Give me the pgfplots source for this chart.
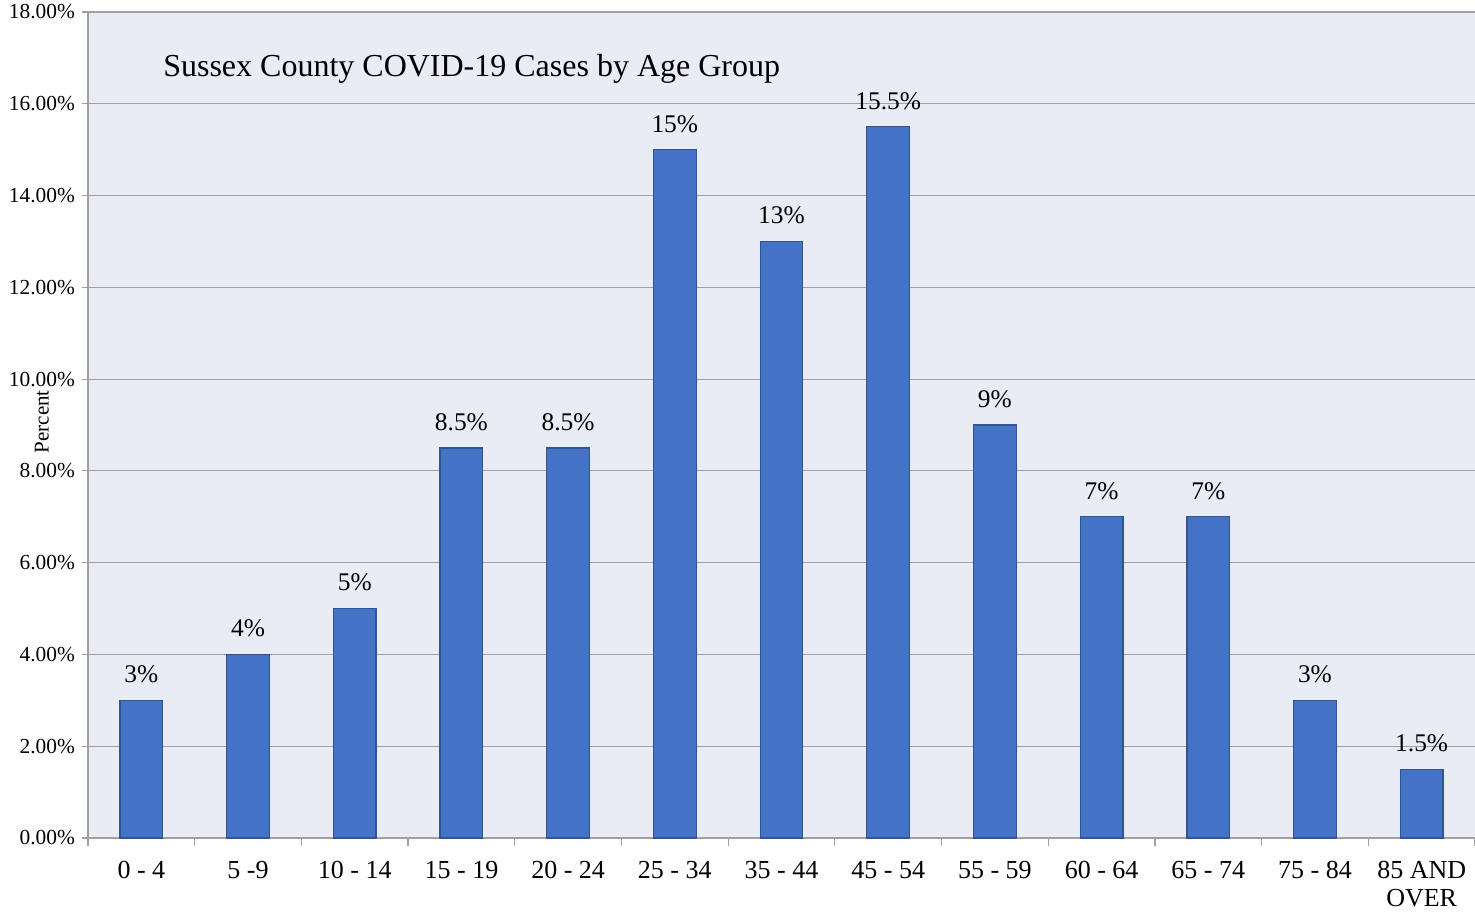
\documentclass[border=0pt]{standalone}
\usepackage{fontspec}
\setmainfont{Liberation Serif}
\usepackage{pgfplots}
\pgfplotsset{compat=1.18}
\definecolor{barblue}{HTML}{4472C4}
\definecolor{baredge}{HTML}{2F5597}
\definecolor{plotbg}{HTML}{E9EBF5}
\definecolor{gridgray}{HTML}{A0A0A0}
\begin{document}
\begin{tikzpicture}
\begin{axis}[
  scale only axis,
  width=693.5bp, height=413bp,
  xmin=-0.5, xmax=12.5, ymin=0, ymax=18,
  axis lines*=left,
  axis line style={-, draw=gridgray, line width=0.6bp},
  axis background/.style={fill=plotbg},
  ybar, bar width=0.4, bar shift=0pt,
  xtick=data,
  xticklabels={0 - 4, 5 -9, 10 - 14, 15 - 19, 20 - 24, 25 - 34, 35 - 44, 45 - 54, 55 - 59, 60 - 64, 65 - 74, 75 - 84, {85 AND\\OVER}},
  major x tick style={draw=none},
  minor xtick={-0.5,0.5,...,12.5},
  minor tick length=4bp,
  minor x tick style={draw=gridgray, line width=0.6bp},
  ytick={0,2,...,18},
  ymajorgrids,
  major grid style={draw=gridgray, line width=0.6bp},
  tick align=outside,
  major tick length=3bp,
  major y tick style={draw=gridgray, line width=0.6bp},
  /pgf/number format/assume math mode=true,
  yticklabel={\pgfmathprintnumber[fixed,fixed zerofill,precision=2]{\tick}\%},
  yticklabel style={font=\fontsize{10.7bp}{12bp}\selectfont},
  xticklabel style={font=\fontsize{13bp}{14bp}\selectfont, align=center, yshift=-5bp},
  ylabel={Percent},
  ylabel style={font=\fontsize{10.5bp}{12bp}\selectfont, at={(axis description cs:-0.0332,0.504)}, anchor=center},
  title={Sussex County COVID-19 Cases by Age Group},
  title style={font=\fontsize{16bp}{18bp}\selectfont, at={(axis description cs:0.054,0.908)}, anchor=base west, inner sep=0pt},
  nodes near coords={\pgfmathprintnumber{\pgfplotspointmeta}\%},
  nodes near coords style={font=\fontsize{12.7bp}{14bp}\selectfont, yshift=5bp},
  clip=false,
]
\addplot[fill=barblue, draw=baredge, line width=0.6bp] coordinates {
  (0,3) (1,4) (2,5) (3,8.5) (4,8.5) (5,15) (6,13) (7,15.5) (8,9) (9,7) (10,7) (11,3) (12,1.5)
};
\end{axis}
\pgfresetboundingbox
\path (current axis.south west) ++(-44bp,-38bp) rectangle ([yshift=6bp]current axis.north east);
\end{tikzpicture}
\end{document}
